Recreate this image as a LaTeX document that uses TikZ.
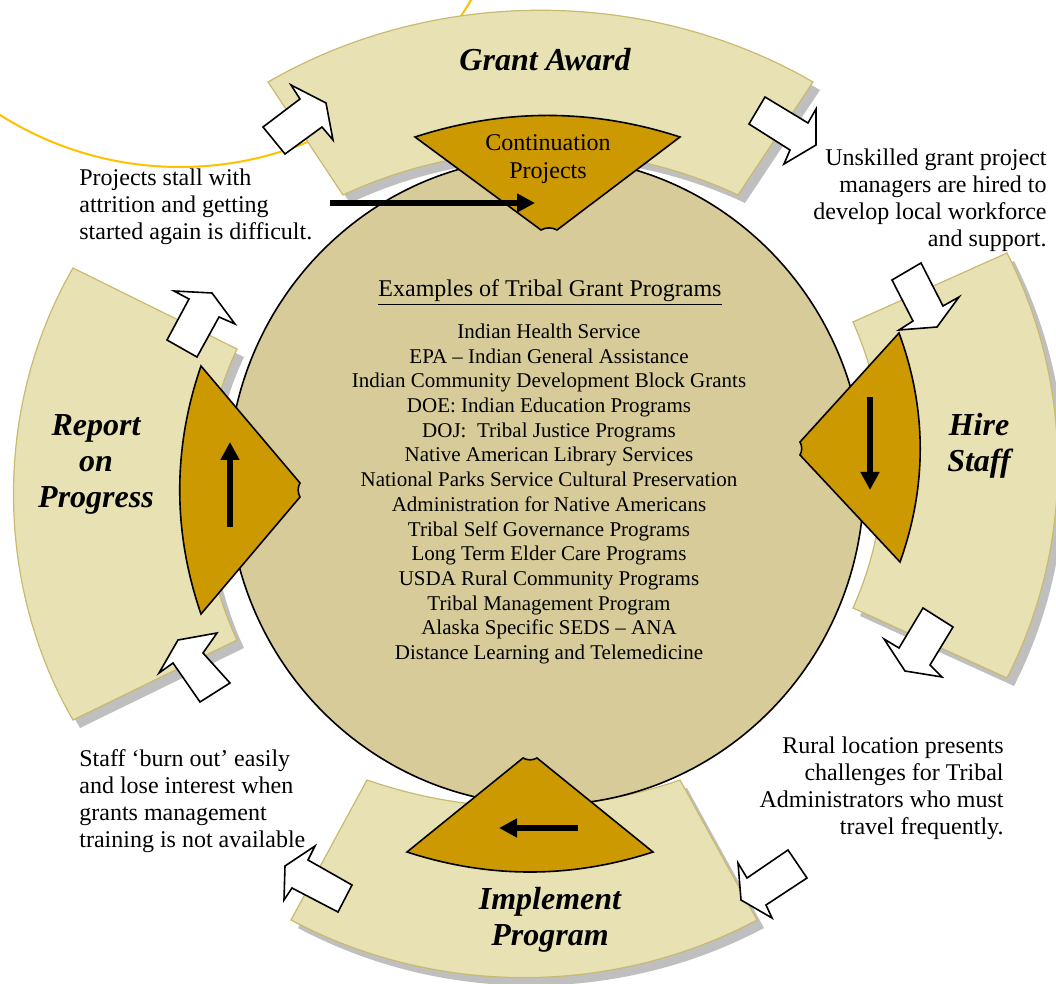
\documentclass[tikz,border=0pt]{standalone}
\usepackage{fontspec}
\setmainfont{Liberation Serif}
\usetikzlibrary{arrows.meta,shadows}

\definecolor{bandfill}{RGB}{232,225,180}
\definecolor{bandline}{RGB}{200,186,110}
\definecolor{hubfill}{RGB}{215,204,153}
\definecolor{wedgefill}{RGB}{204,153,0}
\definecolor{orbitline}{RGB}{255,192,0}

\begin{document}
\begin{tikzpicture}[x=0.5pt,y=-0.5pt,looseness=0.9,
	band/.style={fill=bandfill,draw=bandline,line width=0.6pt,
		drop shadow={shadow xshift=3.5pt,shadow yshift=-4pt,fill=black!25,opacity=1}},
	hub/.style={fill=hubfill,draw=black,line width=0.8pt},
	wedge/.style={fill=wedgefill,draw=black,line width=0.8pt},
	blockarrow/.style={fill=white,draw=black,line width=0.8pt},
	flow/.style={line width=3pt,-{Triangle[length=9pt,width=9pt]}},
	phase/.style={font=\fontsize{16}{18}\selectfont\bfseries\itshape,align=center,inner sep=0pt},
	note/.style={font=\fontsize{12}{13.5}\selectfont,inner sep=0pt},
	program/.style={font=\fontsize{10.5}{12.35}\selectfont,align=center,inner sep=0pt}]

	\useasboundingbox (0,0) rectangle (1056,984);

	% orbit line behind everything
	\draw[orbitline,line width=1pt] (180,-170) circle [radius=337];

	% the four phase bands
	\draw[band] (268,82) to[bend left=30] (813,82) -- (738,195) to[bend right=25] (343,195) -- cycle;
	\draw[band] (73,268) to[bend right=30] (73,720) -- (237,640) to[bend left=25] (237,349) -- cycle;
	\draw[band] (1007,253) to[bend left=27] (1007,678) -- (853,608) to[bend right=24] (853,322) -- cycle;
	\draw[band] (291,920) to[bend right=28] (757,920) -- (680,780) to[bend left=19] (367,780) -- cycle;

	% hub
	\draw[hub] (546,481) ellipse [x radius=318, y radius=324];

	% wedges
	\draw[wedge] (541,230) -- (415,137) to[bend left=18] (680,137) -- (557,230) to[bend right=30] (541,230) -- cycle;
	\draw[wedge] (300,483) -- (201,366) to[bend right=19] (201,614) -- (300,497) to[bend left=30] (300,483) -- cycle;
	\draw[wedge] (800,455) -- (900,562) to[bend right=20] (899,333) -- (800,442) to[bend left=30] (800,455) -- cycle;
	\draw[wedge] (537,758) -- (653,852) to[bend left=18] (407,852) -- (523,758) to[bend right=30] (537,758) -- cycle;

	% arrows in the wedges
	\coordinate (stallend) at (330,203);
	\coordinate (contin) at (535,203);
	\coordinate (reportlow) at (230,527);
	\coordinate (reporthigh) at (230,442);
	\coordinate (hirehigh) at (870,397);
	\coordinate (hirelow) at (870,490);
	\coordinate (implright) at (578,828);
	\coordinate (implleft) at (499,828);
	\draw[flow] (stallend) -- (contin);
	\draw[flow] (reportlow) -- (reporthigh);
	\draw[flow] (hirehigh) -- (hirelow);
	\draw[flow] (implright) -- (implleft);

	% block arrows between the bands
	\draw[blockarrow] (263,127) -- (300,99) -- (291,85) -- (326,103) -- (333,140) -- (322,127) -- (285,154) -- cycle;
	\draw[blockarrow] (749,124) -- (765,97) -- (808,123) -- (816,109) -- (816,145) -- (784,164) -- (790,150) -- cycle;
	\draw[blockarrow] (892,280) -- (921,263) -- (943,306) -- (959,297) -- (937,327) -- (899,330) -- (913,321) -- cycle;
	\draw[blockarrow] (923,608) -- (953,627) -- (930,665) -- (942,677) -- (905,671) -- (884,639) -- (899,648) -- cycle;
	\draw[blockarrow] (788,850) -- (807,878) -- (766,905) -- (772,918) -- (741,900) -- (738,863) -- (747,878) -- cycle;
	\draw[blockarrow] (352,885) -- (338,912) -- (292,888) -- (284,900) -- (285,866) -- (315,846) -- (308,860) -- cycle;
	\draw[blockarrow] (230,683) -- (200,702) -- (173,663) -- (159,673) -- (178,640) -- (217,633) -- (203,653) -- cycle;
	\draw[blockarrow] (167,340) -- (197,357) -- (219,317) -- (235,324) -- (212,293) -- (174,291) -- (189,299) -- cycle;

	% labels
	\node[phase] (award) at (545,60) {Grant Award};
	\node[phase] (report) at (96,464) {Report\\on\\Progress};
	\node[phase] (hire) at (979,446) {Hire\\Staff};
	\node[phase] (implement) at (550,920) {Implement\\Program};
	\node[note,align=center,font=\fontsize{12}{14}\selectfont] (contproj) at (548,159) {Continuation\\Projects};

	\node[note,anchor=west,align=left] (stall) at (79,207) {Projects stall with\\attrition and getting\\started again is difficult.};
	\node[note,anchor=east,align=right] (unskilled) at (1047,200) {Unskilled grant project\\managers are hired to\\develop local workforce\\and support.};
	\node[note,anchor=west,align=left] (burnout) at (79,801) {Staff ‘burn out’ easily\\and lose interest when\\grants management\\training is not available};
	\node[note,anchor=east,align=right] (rural) at (1004,788) {Rural location presents\\challenges for Tribal\\Administrators who must\\travel frequently.};

	\node[program,font=\fontsize{12}{14}\selectfont] (listtitle) at (550,293) {\underline{Examples of Tribal Grant Programs}};
	\node[program] (programs) at (549,494) {Indian Health Service\\
		EPA – Indian General Assistance\\
		Indian Community Development Block Grants\\
		DOE: Indian Education Programs\\
		DOJ:~ Tribal Justice Programs\\
		Native American Library Services\\
		National Parks Service Cultural Preservation\\
		Administration for Native Americans\\
		Tribal Self Governance Programs\\
		Long Term Elder Care Programs\\
		USDA Rural Community Programs\\
		Tribal Management Program\\
		Alaska Specific SEDS – ANA\\
		Distance Learning and Telemedicine};

\end{tikzpicture}
\end{document}
